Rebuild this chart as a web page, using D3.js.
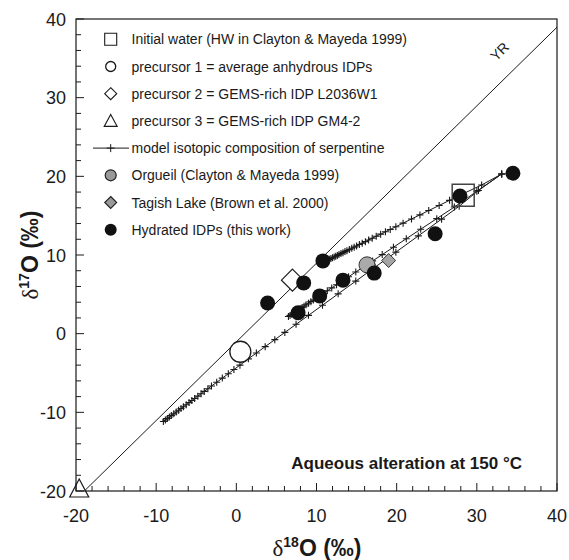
<!DOCTYPE html>
<html lang="en">
<head>
    <meta charset="UTF-8">
    <title>Oxygen isotopes - aqueous alteration</title>
    <script src="https://d3js.org/d3.v7.min.js"></script>
    <style>
        body { margin: 0; background: #fff; }
        text { font-family: "Liberation Sans", Arial, sans-serif; fill: #1a1a1a; }
    </style>
</head>
<body>
    <svg id="chart" width="569" height="560"></svg>
    <script>
        // ---- data (delta18O, delta17O in permil) ----
        const xTicks = [-20, -10, 0, 10, 20, 30, 40];
        const yTicks = [-20, -10, 0, 10, 20, 30, 40];

        const waterX = [28.3];          // initial water (HW)
        const waterY = [17.6];
        const prec1X = [0.5];           // average anhydrous IDPs
        const prec1Y = [-2.3];
        const prec2X = [7.0];           // L2036W1
        const prec2Y = [6.8];
        const prec3X = [-19.6];         // GM4-2
        const prec3Y = [-20.0];
        const orgueilX = [16.3];
        const orgueilY = [8.75];
        const tagishX = [19.0];
        const tagishY = [9.3];
        const hydratedX = [34.5, 27.9, 24.8, 10.8, 8.4, 3.9, 17.2, 13.3, 10.4, 7.7];
        const hydratedY = [20.4, 17.5, 12.7, 9.25, 6.45, 3.9, 7.7, 6.8, 4.8, 2.65];

        // model serpentine compositions (lower, middle, upper curves)
        const modelLowX = [-9.1, -8.85, -8.6, -8.35, -8.1, -7.8, -7.5, -7.2, -6.9, -6.6, -6.25, -5.9, -5.55, -5.2,
            -4.8, -4.4, -4.0, -3.55, -3.1, -2.45, -1.75, -1.0, -0.3, 0.45, 1.5, 2.5, 3.6, 4.8, 6.05, 7.45, 9.0,
            10.75, 12.7, 14.9, 17.3, 19.9, 22.7, 25.6, 27.8, 30.2, 33.1];
        const modelLowY = [-11.16, -10.98, -10.79, -10.6, -10.41, -10.19, -9.96, -9.74, -9.51, -9.29, -9.03, -8.76,
            -8.5, -8.24, -7.94, -7.64, -7.34, -7.0, -6.66, -6.18, -5.65, -5.09, -4.56, -4.0, -3.2, -2.46, -1.65,
            -0.76, 0.16, 1.19, 2.33, 3.62, 5.06, 6.68, 8.45, 10.36, 12.43, 14.56, 16.2, 18.2, 20.3];
        const modelMidX = [6.5, 6.7, 6.9, 7.1, 7.3, 7.5, 7.7, 7.95, 8.2, 8.45, 8.7, 9.0, 9.3, 9.6, 10.0, 10.4, 10.85,
            11.35, 11.9, 12.5, 13.2, 14.0, 14.9, 15.9, 17.0, 18.2, 19.6, 21.2, 23.0, 25.0, 27.2, 30.0, 33.1];
        const modelMidY = [2.19, 2.32, 2.46, 2.59, 2.73, 2.86, 3.0, 3.16, 3.33, 3.5, 3.67, 3.87, 4.07, 4.27, 4.54, 4.81,
            5.11, 5.45, 5.82, 6.22, 6.69, 7.23, 7.84, 8.51, 9.25, 10.05, 10.99, 12.07, 13.28, 14.62, 16.1, 18.1, 20.3];
        const modelUpX = [11.2, 11.4, 11.6, 11.8, 12.0, 12.2, 12.4, 12.6, 12.8, 13.05, 13.3, 13.55, 13.8, 14.1, 14.4,
            14.7, 15.0, 15.35, 15.7, 16.1, 16.5, 16.95, 17.45, 18.0, 18.6, 19.2, 19.9, 20.8, 21.85, 22.9, 24.0, 25.3,
            26.6, 28.0, 30.6, 33.1];
        const modelUpY = [9.25, 9.35, 9.45, 9.55, 9.65, 9.75, 9.85, 9.95, 10.05, 10.18, 10.3, 10.43, 10.55, 10.7, 10.85,
            11.0, 11.15, 11.33, 11.5, 11.7, 11.9, 12.13, 12.38, 12.65, 12.95, 13.25, 13.6, 14.05, 14.58, 15.1, 15.65,
            16.3, 16.95, 17.65, 18.9, 20.3];

        // Young & Russell line: d17 = d18 - 1.04
        const yrX = [-20, 40];
        const yrY = [-21.04, 38.96];

        const legendLabels = [
            "Initial water (HW in Clayton & Mayeda 1999)",
            "precursor 1 = average anhydrous IDPs",
            "precursor 2 = GEMS-rich IDP L2036W1",
            "precursor 3 = GEMS-rich IDP GM4-2",
            "model isotopic composition of serpentine",
            "Orgueil (Clayton & Mayeda 1999)",
            "Tagish Lake (Brown et al. 2000)",
            "Hydrated IDPs (this work)"
        ];

        // ---- layout ----
        const svg = d3.select("#chart");
        const pLeft = 76, pRight = 557, pTop = 19, pBottom = 491;
        const x = d3.scaleLinear().domain([-20, 40]).range([pLeft, pRight]);
        const y = d3.scaleLinear().domain([-20, 40]).range([pBottom, pTop]);

        svg.append("defs").append("clipPath").attr("id", "plotclip")
            .append("rect").attr("x", pLeft).attr("y", pTop)
            .attr("width", pRight - pLeft).attr("height", pBottom - pTop);

        // SHAPE HELPERS
        function square(cx, cy, s) {
            return `M${cx - s / 2},${cy - s / 2}h${s}v${s}h${-s}Z`;
        }
        function diamond(cx, cy, s) {
            return `M${cx},${cy - s / 2}L${cx + s / 2},${cy}L${cx},${cy + s / 2}L${cx - s / 2},${cy}Z`;
        }
        function triangle(cx, cy, w, h) {
            return `M${cx},${cy - h}L${cx + w / 2},${cy}L${cx - w / 2},${cy}Z`;
        }
        function plus(cx, cy, s) {
            return `M${cx - s / 2},${cy}H${cx + s / 2}M${cx},${cy - s / 2}V${cy + s / 2}`;
        }

        const plot = svg.append("g").attr("clip-path", "url(#plotclip)");

        // YR LINE
        plot.append("line")
            .attr("x1", x(yrX[0])).attr("y1", y(yrY[0]))
            .attr("x2", x(yrX[1])).attr("y2", y(yrY[1]))
            .attr("stroke", "#1a1a1a").attr("stroke-width", 1);

        // MODEL CURVES
        const models = [[modelLowX, modelLowY], [modelMidX, modelMidY], [modelUpX, modelUpY]];
        const lineGen = d3.line().x(d => x(d[0])).y(d => y(d[1]));
        models.forEach(m => {
            const pts = m[0].map((v, i) => [v, m[1][i]]);
            plot.append("path").attr("d", lineGen(pts))
                .attr("fill", "none").attr("stroke", "#1a1a1a").attr("stroke-width", 1);
            plot.append("g").selectAll("path").data(pts).enter().append("path")
                .attr("d", d => plus(x(d[0]), y(d[1]), 7))
                .attr("stroke", "#1a1a1a").attr("stroke-width", 1.1);
        });

        // INITIAL WATER (open square)
        svg.append("g").selectAll("path").data(waterX).enter().append("path")
            .attr("d", (d, i) => square(x(d), y(waterY[i]), 22))
            .attr("fill", "none").attr("stroke", "#444").attr("stroke-width", 1.5);

        // PRECURSORS
        svg.append("g").selectAll("circle").data(prec1X).enter().append("circle")
            .attr("cx", d => x(d)).attr("cy", (d, i) => y(prec1Y[i])).attr("r", 10.5)
            .attr("fill", "#fff").attr("stroke", "#1a1a1a").attr("stroke-width", 1.3);
        svg.append("g").selectAll("path").data(prec2X).enter().append("path")
            .attr("d", (d, i) => diamond(x(d), y(prec2Y[i]), 22))
            .attr("fill", "#fff").attr("stroke", "#1a1a1a").attr("stroke-width", 1.2);
        svg.append("g").selectAll("path").data(prec3X).enter().append("path")
            .attr("d", (d, i) => triangle(x(d), y(prec3Y[i]) + 6, 19, 18))
            .attr("fill", "#fff").attr("stroke", "#1a1a1a").attr("stroke-width", 1.2);

        // ORGUEIL & TAGISH LAKE
        svg.append("g").selectAll("circle").data(orgueilX).enter().append("circle")
            .attr("cx", d => x(d)).attr("cy", (d, i) => y(orgueilY[i])).attr("r", 8)
            .attr("fill", "#aaa").attr("stroke", "#333").attr("stroke-width", 1);
        svg.append("g").selectAll("path").data(tagishX).enter().append("path")
            .attr("d", (d, i) => diamond(x(d), y(tagishY[i]), 14))
            .attr("fill", "#a5a5a5").attr("stroke", "#333").attr("stroke-width", 1);

        // HYDRATED IDPs
        svg.append("g").selectAll("circle").data(hydratedX).enter().append("circle")
            .attr("cx", d => x(d)).attr("cy", (d, i) => y(hydratedY[i])).attr("r", 7.5)
            .attr("fill", "#111");

        // AXES BOX + INWARD TICKS
        svg.append("rect").attr("x", pLeft).attr("y", pTop)
            .attr("width", pRight - pLeft).attr("height", pBottom - pTop)
            .attr("fill", "none").attr("stroke", "#1a1a1a").attr("stroke-width", 1.2);

        const minor = d3.range(-20, 41, 2);
        svg.append("g").selectAll("line").data(minor).enter().append("line")
            .attr("x1", d => x(d)).attr("x2", d => x(d))
            .attr("y1", pBottom).attr("y2", d => pBottom - (d % 10 === 0 ? 8 : 5))
            .attr("stroke", "#1a1a1a");
        svg.append("g").selectAll("line").data(minor).enter().append("line")
            .attr("y1", d => y(d)).attr("y2", d => y(d))
            .attr("x1", pLeft).attr("x2", d => pLeft + (d % 10 === 0 ? 8 : 5))
            .attr("stroke", "#1a1a1a");

        svg.append("g").selectAll("text").data(xTicks).enter().append("text")
            .attr("x", d => x(d)).attr("y", 522)
            .attr("text-anchor", "middle").style("font-size", "18px")
            .text(d => d);
        svg.append("g").selectAll("text").data(yTicks).enter().append("text")
            .attr("x", 66).attr("y", d => y(d) + 6.5)
            .attr("text-anchor", "end").style("font-size", "18px")
            .text(d => d);

        // AXIS TITLES
        const xt = svg.append("text").attr("x", 317).attr("y", 556)
            .attr("text-anchor", "middle").style("font-size", "23px");
        xt.append("tspan").style("font-family", "Liberation Serif").text("δ");
        xt.append("tspan").attr("dy", -9).style("font-size", "14px").style("font-weight", "bold").text("18");
        xt.append("tspan").attr("dy", 9).style("font-weight", "bold").text("O (‰)");

        const yt = svg.append("text").attr("transform", "translate(38,255) rotate(-90)")
            .attr("text-anchor", "middle").style("font-size", "23px");
        yt.append("tspan").style("font-family", "Liberation Serif").text("δ");
        yt.append("tspan").attr("dy", -9).style("font-size", "14px").style("font-weight", "bold").text("17");
        yt.append("tspan").attr("dy", 9).style("font-weight", "bold").text("O (‰)");

        // YR LABEL
        svg.append("text").attr("transform", "translate(503,55) rotate(-45)")
            .attr("text-anchor", "middle").style("font-size", "14px").text("YR");

        // ANNOTATION
        svg.append("text").attr("x", 522).attr("y", 469)
            .attr("text-anchor", "end").style("font-size", "17px").style("font-weight", "bold")
            .text("Aqueous alteration at 150 °C");

        // LEGEND
        const lx = 110.7, ly0 = 39.3, lstep = 27.2;
        const leg = svg.append("g");
        leg.selectAll("text").data(legendLabels).enter().append("text")
            .attr("x", 131.5).attr("y", (d, i) => ly0 + i * lstep + 5)
            .style("font-size", "14px").text(d => d);
        leg.append("path").attr("d", square(lx, ly0, 12))
            .attr("fill", "none").attr("stroke", "#1a1a1a").attr("stroke-width", 1.1);
        leg.append("circle").attr("cx", lx).attr("cy", ly0 + lstep).attr("r", 5)
            .attr("fill", "#fff").attr("stroke", "#1a1a1a").attr("stroke-width", 1.3);
        leg.append("path").attr("d", diamond(lx, ly0 + 2 * lstep, 12))
            .attr("fill", "#fff").attr("stroke", "#1a1a1a").attr("stroke-width", 1.1);
        leg.append("path").attr("d", triangle(lx, ly0 + 3 * lstep + 5.5, 13, 12))
            .attr("fill", "#fff").attr("stroke", "#1a1a1a").attr("stroke-width", 1.1);
        leg.append("line").attr("x1", 93).attr("x2", 129).attr("y1", ly0 + 4 * lstep).attr("y2", ly0 + 4 * lstep)
            .attr("stroke", "#1a1a1a");
        leg.append("path").attr("d", plus(lx, ly0 + 4 * lstep, 8)).attr("stroke", "#1a1a1a");
        leg.append("circle").attr("cx", lx).attr("cy", ly0 + 5 * lstep).attr("r", 5.5)
            .attr("fill", "#999").attr("stroke", "#222").attr("stroke-width", 1.2);
        leg.append("path").attr("d", diamond(lx, ly0 + 6 * lstep, 12))
            .attr("fill", "#999").attr("stroke", "#222").attr("stroke-width", 1.1);
        leg.append("circle").attr("cx", lx).attr("cy", ly0 + 7 * lstep).attr("r", 6)
            .attr("fill", "#111");
    </script>
</body>
</html>
